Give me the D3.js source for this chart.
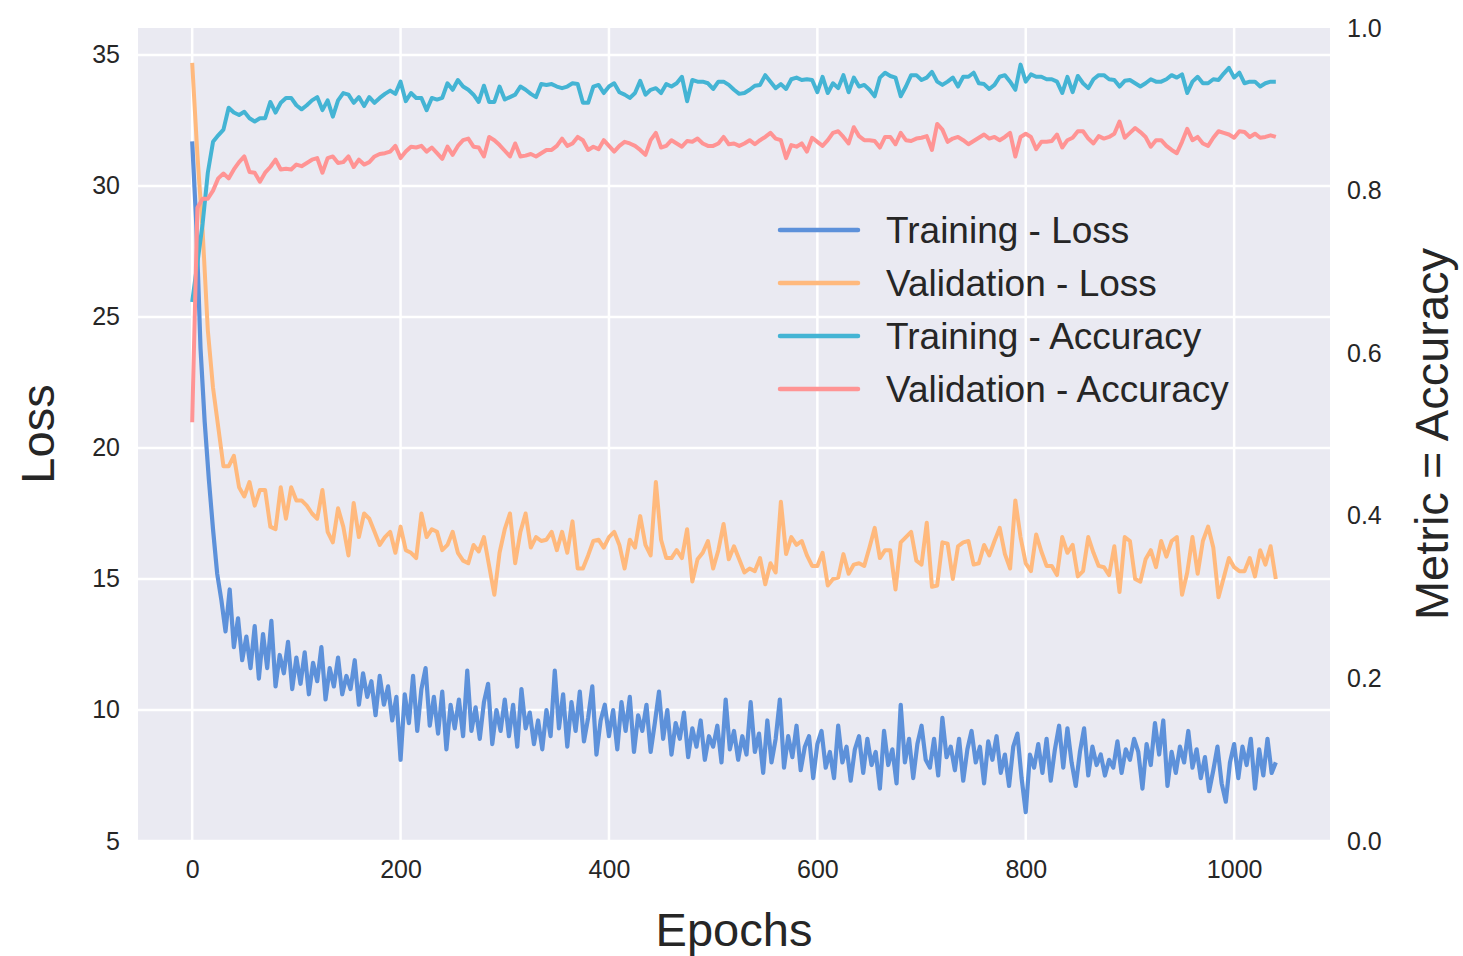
<!DOCTYPE html>
<html>
<head>
<meta charset="utf-8">
<script src="https://cdn.jsdelivr.net/npm/d3@7"></script>
<style>
  body { margin: 0; background: #fff; }
  text { font-family: "Liberation Sans", Arial, sans-serif; fill: #262626; }
</style>
</head>
<body>
<script>
// training loss, one value every 4 epochs
const trainLossStep = 4;
const trainLoss = [
  31.7, 28.5, 23.8, 21.0, 18.8, 16.9, 15.2, 14.2, 13.0, 14.6,
  12.4, 13.5, 11.9, 12.8, 11.6, 13.2, 11.2, 12.9, 11.6, 13.4,
  10.9, 12.1, 11.4, 12.6, 10.8, 12.0, 11.0, 12.2, 10.6, 11.8,
  11.1, 12.4, 10.4, 11.6, 10.9, 12.0, 10.6, 11.3, 10.8, 11.9,
  10.2, 11.4, 10.5, 11.1, 9.8, 11.3, 10.2, 10.9, 9.6, 10.5,
  8.1, 10.6, 9.5, 11.3, 9.2, 10.8, 11.6, 9.4, 10.5, 9.1,
  10.7, 8.5, 10.2, 9.3, 10.4, 9.0, 11.5, 9.2, 10.1, 8.9,
  10.3, 11.0, 8.7, 10.0, 9.2, 10.4, 9.0, 10.2, 8.6, 10.8,
  9.3, 9.9, 8.7, 9.6, 8.5, 10.0, 9.0, 11.5, 9.3, 10.6,
  8.6, 10.3, 9.2, 10.7, 8.8, 9.7, 10.9, 8.3, 9.6, 10.2,
  9.0, 10.0, 8.5, 10.3, 9.2, 10.5, 8.4, 9.8, 9.2, 10.2,
  8.4, 9.5, 10.7, 8.9, 10.0, 8.3, 9.5, 8.9, 9.9, 8.2,
  9.3, 8.6, 9.6, 8.1, 9.0, 8.6, 9.4, 8.0, 10.4, 8.5,
  9.2, 8.1, 9.0, 8.3, 10.3, 8.4, 9.1, 7.6, 9.6, 8.0,
  8.9, 10.4, 7.8, 9.0, 8.2, 9.4, 7.7, 8.6, 9.0, 7.4,
  8.7, 9.2, 7.8, 8.4, 7.4, 9.4, 8.0, 8.6, 7.3, 8.5,
  9.0, 7.6, 8.9, 7.9, 8.4, 7.0, 9.2, 7.9, 8.5, 7.2,
  10.2, 8.0, 8.9, 7.4, 8.7, 9.4, 8.1, 7.8, 8.9, 7.5,
  9.7, 8.2, 8.6, 7.7, 8.9, 7.3, 8.5, 9.2, 8.0, 8.6,
  7.2, 8.8, 8.1, 9.0, 7.6, 8.3, 7.1, 8.6, 9.1, 7.4,
  6.1, 8.3, 7.8, 8.7, 7.6, 8.9, 7.3, 8.5, 9.4, 7.8,
  9.3, 8.0, 7.1, 8.4, 9.3, 7.5, 8.6, 7.9, 8.3, 7.5,
  8.1, 7.8, 8.8, 7.6, 8.5, 8.1, 8.9, 8.4, 7.0, 8.7,
  7.9, 9.5, 8.3, 9.6, 7.1, 8.4, 7.6, 8.6, 8.0, 9.2,
  7.8, 8.5, 7.4, 8.2, 6.9, 7.7, 8.6, 7.2, 6.5, 8.0,
  8.7, 7.4, 8.6, 7.9, 8.9, 7.0, 8.5, 7.5, 8.9, 7.6,
  8.0
];

// validation loss and both accuracies, one value every 5 epochs
const evalStep = 5;
const valLoss = [
  34.7, 31.2, 28.3, 24.5, 22.3, 20.8, 19.3, 19.3, 19.7, 18.5,
  18.15, 18.7, 17.8, 18.4, 18.4, 17.0, 16.9, 18.5, 17.3, 18.5,
  18.0, 18.0, 17.8, 17.5, 17.3, 18.4, 16.8, 16.4, 17.7, 17.0,
  15.9, 17.9, 16.6, 17.5, 17.3, 16.8, 16.3, 16.6, 16.8, 16.0,
  17.0, 16.1, 16.0,
  15.8, 17.5, 16.6, 16.9, 16.8, 16.1, 16.3, 16.8, 16.0, 15.7,
  15.6, 16.3, 16.05, 16.6, 15.5, 14.4, 16.0, 16.9, 17.5, 15.6,
  16.8, 17.5, 16.2, 16.6, 16.45, 16.5, 16.8, 16.1, 16.8, 16.0,
  17.2, 15.4, 15.4, 15.9, 16.45, 16.5, 16.2, 16.6, 16.8, 16.3,
  15.4, 16.5, 16.2, 17.4, 16.3, 15.9, 18.7, 16.5, 15.8, 15.8,
  16.1, 15.8, 16.9, 14.9, 15.75, 16.0, 16.45, 15.4, 16.1, 17.1,
  15.75, 16.25, 15.75, 15.25, 15.4, 15.3, 15.8, 14.8, 15.6, 15.25,
  17.95, 15.95, 16.6, 16.3, 16.45, 15.9, 15.5, 15.5, 16.0, 14.75,
  15.0, 15.05, 15.95, 15.2, 15.55, 15.6, 15.5, 16.2, 16.95, 15.8,
  16.1, 16.1, 14.6, 16.4, 16.6, 16.8, 15.7, 15.55, 17.15, 14.7,
  14.75, 16.4, 16.35, 15.0, 16.25, 16.4, 16.45, 15.55, 15.6, 16.3,
  15.9, 16.45, 16.95, 15.95, 15.4, 18.0, 16.6, 15.6, 15.3, 16.7,
  16.05, 15.5, 15.5, 15.15, 16.6, 16.0, 16.3, 15.1, 15.3, 16.6,
  16.0, 15.5, 15.45, 15.15, 16.25, 14.5, 16.6, 16.45, 15.0, 14.9,
  15.75, 16.1, 15.45, 16.45, 15.85, 16.45, 16.6, 14.4, 15.25, 16.6,
  15.2, 16.45, 17.0, 16.2, 14.3, 15.05, 15.8, 15.45, 15.3, 15.3,
  15.8, 15.1, 16.1, 15.55, 16.25, 15.0
];

const trainAcc = [
  0.663, 0.711, 0.759, 0.822, 0.860, 0.868, 0.875, 0.902, 0.896, 0.893,
  0.897, 0.889, 0.885, 0.889, 0.889, 0.909, 0.896, 0.908, 0.914, 0.914,
  0.905, 0.900, 0.905, 0.911, 0.915, 0.899, 0.911, 0.891, 0.911, 0.920,
  0.918, 0.908, 0.915, 0.904, 0.915, 0.908, 0.914, 0.919, 0.923, 0.919,
  0.934, 0.910, 0.920, 0.914, 0.914,
  0.899, 0.914, 0.912, 0.914, 0.932, 0.924, 0.936, 0.928, 0.924, 0.918,
  0.909, 0.929, 0.909, 0.909, 0.928, 0.912, 0.915, 0.918, 0.928, 0.924,
  0.919, 0.915, 0.931, 0.930, 0.931, 0.928, 0.926, 0.928, 0.932, 0.931,
  0.908, 0.908, 0.928, 0.930, 0.920, 0.928, 0.932, 0.921, 0.918, 0.914,
  0.920, 0.935, 0.918, 0.924, 0.926, 0.920, 0.931, 0.928, 0.932, 0.940,
  0.910, 0.936, 0.934, 0.934, 0.932, 0.925, 0.934, 0.934, 0.930, 0.924,
  0.919, 0.920, 0.924, 0.929, 0.930, 0.942, 0.934, 0.926, 0.931, 0.925,
  0.937, 0.939, 0.936, 0.937, 0.936, 0.921, 0.940, 0.920, 0.932, 0.926,
  0.942, 0.921, 0.939, 0.928, 0.930, 0.924, 0.916, 0.939, 0.945, 0.941,
  0.939, 0.916, 0.928, 0.942, 0.942, 0.936, 0.939, 0.946, 0.934, 0.930,
  0.934, 0.939, 0.928, 0.940, 0.940, 0.945, 0.932, 0.931, 0.925, 0.930,
  0.940, 0.942, 0.934, 0.924, 0.955, 0.934, 0.943, 0.940, 0.940, 0.937,
  0.937, 0.934, 0.920, 0.940, 0.921, 0.941, 0.932, 0.926, 0.937, 0.942,
  0.942, 0.937, 0.936, 0.928, 0.935, 0.936, 0.932, 0.928, 0.932, 0.937,
  0.934, 0.934, 0.937, 0.942, 0.939, 0.943, 0.920, 0.934, 0.940, 0.932,
  0.932, 0.937, 0.936, 0.944, 0.951, 0.939, 0.945, 0.932, 0.934, 0.934,
  0.928, 0.932, 0.934, 0.934
];

const valAcc = [
  0.515, 0.779, 0.790, 0.790, 0.800, 0.815, 0.821, 0.815, 0.826, 0.835,
  0.842, 0.823, 0.822, 0.811, 0.822, 0.829, 0.838, 0.826, 0.827, 0.826,
  0.832, 0.830, 0.834, 0.838, 0.840, 0.822, 0.840, 0.842, 0.834, 0.835,
  0.842, 0.829, 0.838, 0.832, 0.835, 0.842, 0.845, 0.846, 0.848, 0.855,
  0.840, 0.848, 0.854, 0.853, 0.855,
  0.848, 0.853, 0.846, 0.839, 0.854, 0.844, 0.855, 0.862, 0.864, 0.854,
  0.853, 0.842, 0.866, 0.862, 0.856, 0.849, 0.842, 0.858, 0.842, 0.843,
  0.845, 0.842, 0.846, 0.850, 0.850, 0.855, 0.864, 0.855, 0.858, 0.866,
  0.862, 0.850, 0.854, 0.851, 0.862, 0.855, 0.848, 0.855, 0.860, 0.858,
  0.855, 0.850, 0.844, 0.862, 0.871, 0.853, 0.855, 0.862, 0.858, 0.854,
  0.861, 0.860, 0.864, 0.858, 0.855, 0.855, 0.858, 0.866, 0.857, 0.858,
  0.855, 0.858, 0.862, 0.857, 0.862, 0.866, 0.871, 0.864, 0.862, 0.840,
  0.856, 0.854, 0.858, 0.848, 0.865, 0.860, 0.855, 0.862, 0.871, 0.873,
  0.866, 0.858, 0.878, 0.867, 0.862, 0.862, 0.861, 0.853, 0.866, 0.866,
  0.857, 0.871, 0.862, 0.861, 0.864, 0.865, 0.867, 0.850, 0.882, 0.875,
  0.860, 0.864, 0.866, 0.862, 0.857, 0.861, 0.865, 0.869, 0.864, 0.866,
  0.862, 0.866, 0.871, 0.842, 0.866, 0.870, 0.866, 0.851, 0.860, 0.860,
  0.861, 0.869, 0.853, 0.862, 0.865, 0.873, 0.873, 0.864, 0.858, 0.867,
  0.864, 0.866, 0.870, 0.885, 0.865, 0.871, 0.877, 0.872, 0.866, 0.854,
  0.862, 0.862, 0.855, 0.850, 0.846, 0.860, 0.876, 0.862, 0.866, 0.858,
  0.855, 0.865, 0.873, 0.871, 0.869, 0.865, 0.873, 0.872, 0.866, 0.870,
  0.865, 0.866, 0.868, 0.866
];

const epochTicks = [0, 200, 400, 600, 800, 1000];
const lossTicks = [5, 10, 15, 20, 25, 30, 35];
const accTicks = [0.0, 0.2, 0.4, 0.6, 0.8, 1.0];
const seriesNames = ["Training - Loss", "Validation - Loss", "Training - Accuracy", "Validation - Accuracy"];
const colors = ["#5d91da", "#ffb97d", "#44b4d4", "#ff9494"];

const width = 1463, height = 956;
const margin = { top: 28, bottom: 115, left: 138, right: 133 };

const svg = d3.select("body")
    .append("svg")
    .attr("width", width)
    .attr("height", height);

const x = d3.scaleLinear().domain([-52, 1092]).range([margin.left, width - margin.right]);
const yLoss = d3.scaleLinear().domain([5, 36.03]).range([height - margin.bottom, margin.top]);
const yAcc = d3.scaleLinear().domain([0, 1]).range([height - margin.bottom, margin.top]);

// background
svg.append("rect")
    .attr("x", margin.left)
    .attr("y", margin.top)
    .attr("width", width - margin.left - margin.right)
    .attr("height", height - margin.top - margin.bottom)
    .attr("fill", "#eaeaf2");

// grid
const grid = svg.append("g").attr("stroke", "#fff").attr("stroke-width", 2.5);
grid.selectAll(".vg").data(epochTicks).join("line")
    .attr("x1", d => x(d)).attr("x2", d => x(d))
    .attr("y1", margin.top).attr("y2", height - margin.bottom);
grid.selectAll(".hg").data(lossTicks).join("line")
    .attr("x1", margin.left).attr("x2", width - margin.right)
    .attr("y1", d => yLoss(d)).attr("y2", d => yLoss(d));

// axes
const fontSize = 25;
const gx = svg.append("g")
    .attr("transform", `translate(0,${height - margin.bottom})`)
    .call(d3.axisBottom(x).tickValues(epochTicks).tickSize(0).tickPadding(19).tickFormat(d3.format("d")));
const gyl = svg.append("g")
    .attr("transform", `translate(${margin.left},0)`)
    .call(d3.axisLeft(yLoss).tickValues(lossTicks).tickSize(0).tickPadding(18));
const gyr = svg.append("g")
    .attr("transform", `translate(${width - margin.right},0)`)
    .call(d3.axisRight(yAcc).tickValues(accTicks).tickSize(0).tickPadding(17).tickFormat(d3.format(".1f")));

[gx, gyl, gyr].forEach(g => {
    g.select(".domain").remove();
    g.selectAll("text")
        .attr("font-size", fontSize)
        .attr("font-family", "Liberation Sans, Arial, sans-serif")
        .attr("fill", "#262626");
});

// lines
const lossLine = step => d3.line().x((d, i) => x(i * step)).y(d => yLoss(d));
const accLine = step => d3.line().x((d, i) => x(i * step)).y(d => yAcc(d));

const plot = svg.append("g").attr("fill", "none").attr("stroke-linejoin", "round");
plot.append("path").datum(trainLoss)
    .attr("d", lossLine(trainLossStep))
    .attr("stroke", colors[0]).attr("stroke-width", 4.2);
plot.append("path").datum(valLoss)
    .attr("d", lossLine(evalStep))
    .attr("stroke", colors[1]).attr("stroke-width", 4);
plot.append("path").datum(trainAcc)
    .attr("d", accLine(evalStep))
    .attr("stroke", colors[2]).attr("stroke-width", 4);
plot.append("path").datum(valAcc)
    .attr("d", accLine(evalStep))
    .attr("stroke", colors[3]).attr("stroke-width", 4);

// legend
const legend = svg.append("g").attr("transform", "translate(780,230)");
const item = legend.selectAll("g").data(seriesNames).join("g")
    .attr("transform", (d, i) => `translate(0,${i * 53})`);
item.append("line")
    .attr("x1", 0).attr("x2", 78)
    .attr("stroke", (d, i) => colors[i])
    .attr("stroke-width", 4.5)
    .attr("stroke-linecap", "round");
item.append("text")
    .attr("x", 106)
    .attr("dy", "0.35em")
    .attr("font-size", 37)
    .text(d => d);

// axis labels
svg.append("text")
    .attr("transform", "translate(38,434) rotate(-90)")
    .attr("text-anchor", "middle")
    .attr("dy", "0.35em")
    .attr("font-size", 47)
    .text("Loss");
svg.append("text")
    .attr("transform", "translate(1432,434) rotate(-90)")
    .attr("text-anchor", "middle")
    .attr("dy", "0.35em")
    .attr("font-size", 47)
    .text("Metric = Accuracy");
svg.append("text")
    .attr("x", 734)
    .attr("y", 930)
    .attr("text-anchor", "middle")
    .attr("dy", "0.35em")
    .attr("font-size", 47)
    .text("Epochs");
</script>
</body>
</html>
